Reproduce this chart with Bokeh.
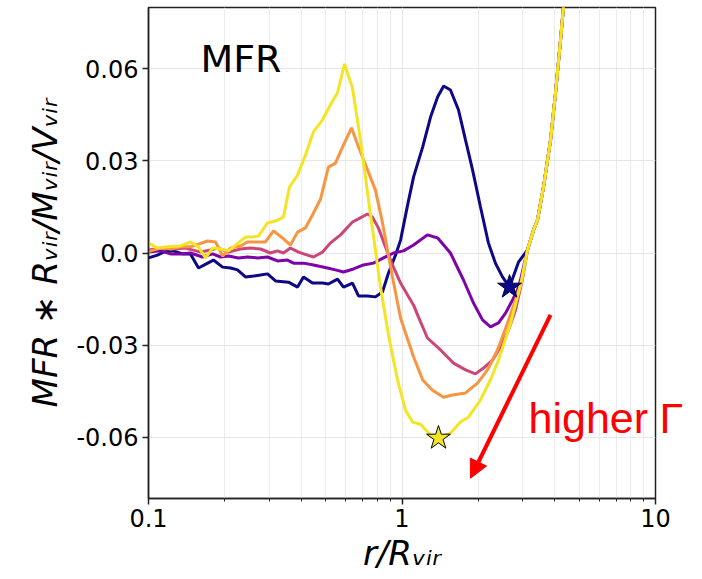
from bokeh.plotting import figure
from bokeh.models import FixedTicker, Label, Arrow, NormalHead, Range1d
from bokeh.embed import file_html
from bokeh.resources import INLINE

# ---------------- data ----------------
X_TICKS = [0.1, 1, 10]
X_TICK_LABELS = ["0.1", "1", "10"]
X_MINOR = [0.2, 0.3, 0.4, 0.5, 0.6, 0.7, 0.8, 0.9, 2, 3, 4, 5, 6, 7, 8, 9]
Y_TICKS = [-0.06, -0.03, 0.0, 0.03, 0.06]
Y_TICK_LABELS = ["-0.06", "-0.03", "0.0", "0.03", "0.06"]

X_TITLE = "r/R\u1d65\u1d62\u1d63"
Y_TITLE = "MFR \u2217 R\u1d65\u1d62\u1d63/M\u1d65\u1d62\u1d63/V\u1d65\u1d62\u1d63"
NOTE_TEXT = "MFR"
ARROW_TEXT = ["higher", "\u0393"]

# common steep rise at large radius (all curves merge)
R_TAIL = [3.127, 3.302, 3.424, 3.616, 3.854, 4.033, 4.220, 4.335, 4.455]
Y_TAIL = [0.001, 0.0075, 0.0108, 0.0215, 0.0368, 0.0522, 0.0694, 0.0802, 0.0906]

R_NAVY = [0.1, 0.1085, 0.1146, 0.1255, 0.1362, 0.1464, 0.1575, 0.1712, 0.1804, 0.1960,
          0.2108, 0.2244, 0.2413, 0.2598, 0.2766, 0.2947, 0.3170, 0.3567, 0.3872, 0.4087,
          0.4435, 0.4859, 0.5124, 0.5567, 0.5880, 0.6378, 0.6734, 0.7310, 0.7857, 0.8374,
          0.8845, 0.9425, 0.9871, 1.052, 1.111, 1.207, 1.296, 1.383, 1.460, 1.553,
          1.671, 1.781, 1.898, 2.040, 2.192, 2.336, 2.491, 2.656, 2.880]
Y_NAVY = [-0.0016, -0.0007, 0.0003, 0.0007, -0.0003, -0.0003, -0.0049, -0.0033, -0.0023, -0.0046,
          -0.0049, -0.0055, -0.0078, -0.0075, -0.0072, -0.0068, -0.0091, -0.0095, -0.0111, -0.0078,
          -0.0098, -0.0098, -0.0101, -0.0085, -0.0111, -0.0098, -0.0140, -0.0140, -0.0143, -0.0127,
          -0.0065, -0.0007, 0.0042, 0.0156, 0.0248, 0.0346, 0.0443, 0.0509, 0.0544, 0.0531,
          0.0466, 0.0368, 0.0271, 0.0150, 0.0033, -0.0033, -0.0078, -0.0111, -0.0030]

R_PURPLE = [0.1, 0.1115, 0.1221, 0.1337, 0.1464, 0.1633, 0.1789, 0.1923, 0.2068, 0.2264,
            0.2457, 0.2693, 0.2947, 0.3227, 0.3535, 0.3735, 0.4087, 0.4475, 0.5078, 0.5462,
            0.5880, 0.6437, 0.7047, 0.7719, 0.8454, 0.9259, 1.014, 1.111, 1.260, 1.383,
            1.553, 1.748, 1.914, 2.078, 2.234, 2.403, 2.561, 2.729, 2.853, 2.934]
Y_PURPLE = [0.0003, 0.0007, -0.0003, -0.0003, 0.0, -0.0013, -0.0003, -0.0013, -0.0010, -0.0016,
            -0.0013, -0.0016, -0.0013, -0.0026, -0.0023, -0.0033, -0.0033, -0.0039, -0.0049, -0.0055,
            -0.0062, -0.0052, -0.0039, -0.0033, -0.0016, 0.0, 0.0007, 0.0026, 0.0059, 0.0049,
            0.0, -0.0088, -0.0163, -0.0218, -0.0241, -0.0228, -0.0196, -0.0153, -0.0121, -0.0088]

R_MAGENTA = [0.1, 0.1146, 0.1255, 0.1400, 0.1606, 0.1756, 0.1888, 0.2068, 0.2305, 0.2524,
             0.2766, 0.3026, 0.3227, 0.3406, 0.3631, 0.3908, 0.4238, 0.4475, 0.4859, 0.5224,
             0.5721, 0.6378, 0.6734, 0.7310, 0.7648, 0.8077, 0.8608, 0.9172, 0.9871, 1.052,
             1.111, 1.162, 1.260, 1.419, 1.597, 1.781, 1.949, 2.097, 2.275, 2.447,
             2.631, 2.804, 2.976]
Y_MAGENTA = [0.0010, 0.0016, 0.0013, 0.0016, 0.0003, 0.0010, 0.0016, 0.0003, 0.0013, 0.0016,
             0.0013, 0.0, 0.0007, 0.0, 0.0016, 0.0003, -0.0007, -0.0013, 0.0003, 0.0033,
             0.0059, 0.0101, 0.0111, 0.0127, 0.0117, 0.0081, 0.0020, -0.0039, -0.0098, -0.0137,
             -0.0170, -0.0209, -0.0277, -0.0316, -0.0359, -0.0381, -0.0394, -0.0375, -0.0349, -0.0306,
             -0.0251, -0.0186, -0.0090]

R_ORANGE = [0.1, 0.1115, 0.1221, 0.1337, 0.1464, 0.1575, 0.1712, 0.1838, 0.1960, 0.2108,
            0.2305, 0.2457, 0.2693, 0.2894, 0.3113, 0.3378, 0.3631, 0.3872, 0.4163, 0.4435,
            0.4773, 0.5124, 0.5462, 0.5880, 0.6322, 0.6734, 0.7310, 0.7857, 0.8377, 0.8764,
            0.9172, 0.9871, 1.032, 1.111, 1.207, 1.319, 1.458, 1.582, 1.781, 1.986,
            2.175, 2.381, 2.608, 2.804, 2.976]
Y_ORANGE = [0.0005, 0.0016, 0.0013, 0.0020, 0.0020, 0.0029, 0.0039, 0.0036, -0.0010, 0.0016,
            0.0023, 0.0036, 0.0036, 0.0036, 0.0072, 0.0049, 0.0026, 0.0068, 0.0082, 0.0124,
            0.0176, 0.0280, 0.0293, 0.0352, 0.0408, 0.0346, 0.0271, 0.0205, 0.0098, 0.0010,
            -0.0078, -0.0212, -0.0260, -0.0339, -0.0414, -0.0447, -0.0470, -0.0463, -0.0456, -0.0424,
            -0.0381, -0.0316, -0.0228, -0.0153, -0.0090]

R_YELLOW = [0.1, 0.1085, 0.1188, 0.1337, 0.1464, 0.1575, 0.1679, 0.1789, 0.1923, 0.2068,
            0.2264, 0.2413, 0.2572, 0.2716, 0.2947, 0.3170, 0.3406, 0.3599, 0.3872, 0.4163,
            0.4475, 0.4859, 0.5224, 0.5567, 0.5932, 0.6378, 0.6858, 0.7514, 0.8226, 0.8845,
            0.9599, 1.032, 1.100, 1.183, 1.296, 1.393, 1.553, 1.701, 1.829, 2.040,
            2.234, 2.403, 2.679, 2.934]
Y_YELLOW = [0.0033, 0.0016, 0.0020, 0.0023, 0.0036, 0.0020, -0.0016, 0.0016, 0.0013, 0.0007,
            0.0033, 0.0052, 0.0052, 0.0055, 0.0098, 0.0104, 0.0117, 0.0215, 0.0254, 0.0319,
            0.0395, 0.0434, 0.0483, 0.0522, 0.0616, 0.0538, 0.0368, 0.0124, -0.0111, -0.0267,
            -0.0413, -0.0512, -0.0551, -0.0558, -0.0593, -0.0603, -0.0587, -0.0551, -0.0535, -0.0479,
            -0.0413, -0.0349, -0.0230, -0.0105]

STAR_R = [2.656, 1.393]
STAR_Y = [-0.0111, -0.0603]
ARROW_R = [3.854, 1.863]
ARROW_Y = [-0.0202, -0.0734]

NAVY, PURPLE, MAGENTA, ORANGE, YELLOW = "#0d0887", "#7e03a8", "#cc4778", "#f89540", "#f3e526"

# ---------------- figure ----------------
p = figure(width=700, height=577, x_axis_type="log",
           x_range=Range1d(0.1, 10), y_range=Range1d(-0.08, 0.08),
           output_backend="svg", toolbar_location=None,
           min_border_left=148, min_border_right=45, min_border_top=7, min_border_bottom=79)
p.background_fill_color = "white"
p.border_fill_color = "white"
p.outline_line_color = "#222222"
p.outline_line_width = 1.5

p.xaxis.ticker = FixedTicker(ticks=X_TICKS, minor_ticks=X_MINOR)
p.xaxis.major_label_overrides = {t: l for t, l in zip(X_TICKS, X_TICK_LABELS)}
p.yaxis.ticker = FixedTicker(ticks=Y_TICKS)
p.yaxis.major_label_overrides = {t: l for t, l in zip(Y_TICKS, Y_TICK_LABELS)}

for ax in (p.xaxis, p.yaxis):
    ax.axis_line_color = "#222222"
    ax.axis_line_width = 1.5
    ax.major_tick_line_color = "#222222"
    ax.major_tick_line_width = 1.5
    ax.major_tick_in = 0
    ax.major_tick_out = 6
    ax.minor_tick_line_color = "#222222"
    ax.minor_tick_line_width = 1
    ax.minor_tick_in = 0
    ax.minor_tick_out = 3
    ax.major_label_text_font = "DejaVu Sans"
    ax.major_label_text_font_size = "24px"
    ax.major_label_text_color = "black"
    ax.major_label_standoff = 4
    ax.axis_label_text_font = "DejaVu Sans"
    ax.axis_label_text_font_style = "italic"
    ax.axis_label_text_font_size = "34px"
    ax.axis_label_text_color = "black"
p.xaxis.axis_label = X_TITLE
p.yaxis.axis_label = Y_TITLE
p.xaxis.axis_label_standoff = 3
p.yaxis.axis_label_standoff = 8

p.xgrid.grid_line_color = "#e6e6e6"
p.xgrid.minor_grid_line_color = "#ececec"
p.ygrid.grid_line_color = "#e6e6e6"

series = [(R_NAVY, Y_NAVY, NAVY), (R_PURPLE, Y_PURPLE, PURPLE), (R_MAGENTA, Y_MAGENTA, MAGENTA),
          (R_ORANGE, Y_ORANGE, ORANGE), (R_YELLOW, Y_YELLOW, YELLOW)]
for rs, ys, c in series:
    p.line(rs + R_TAIL, ys + Y_TAIL, line_color=c, line_width=3)

p.scatter(STAR_R[:1], STAR_Y[:1], marker="star", size=25, fill_color=NAVY, line_color="#000044", line_width=1)
p.scatter(STAR_R[1:], STAR_Y[1:], marker="star", size=25, fill_color=YELLOW, line_color="black", line_width=1)

p.add_layout(Arrow(end=NormalHead(size=18, fill_color="red", line_color="red"),
                   x_start=ARROW_R[0], y_start=ARROW_Y[0], x_end=ARROW_R[1], y_end=ARROW_Y[1],
                   line_color="red", line_width=4))

p.add_layout(Label(x=0.1603, y=0.0587, y_offset=14, text=NOTE_TEXT, text_font="DejaVu Sans",
                   text_font_size="38px", text_color="black", text_baseline="alphabetic"))

# "higher" fits inside the frame; the Gamma runs past the right spine in the reference,
# so it lives in the (unclipped) right side panel, in screen units relative to that panel
p.add_layout(Label(x=3.155, y=-0.0584, y_offset=14, text=ARROW_TEXT[0], text_font="Liberation Sans",
                   text_font_size="43px", text_color="red", text_baseline="alphabetic"))
p.add_layout(Label(x=4, y=81, x_units="screen", y_units="screen", text=ARROW_TEXT[1],
                   text_font="Liberation Sans", text_font_size="43px", text_color="red",
                   text_baseline="alphabetic"), "right")

open("out.html", "w").write(file_html(p, INLINE))
